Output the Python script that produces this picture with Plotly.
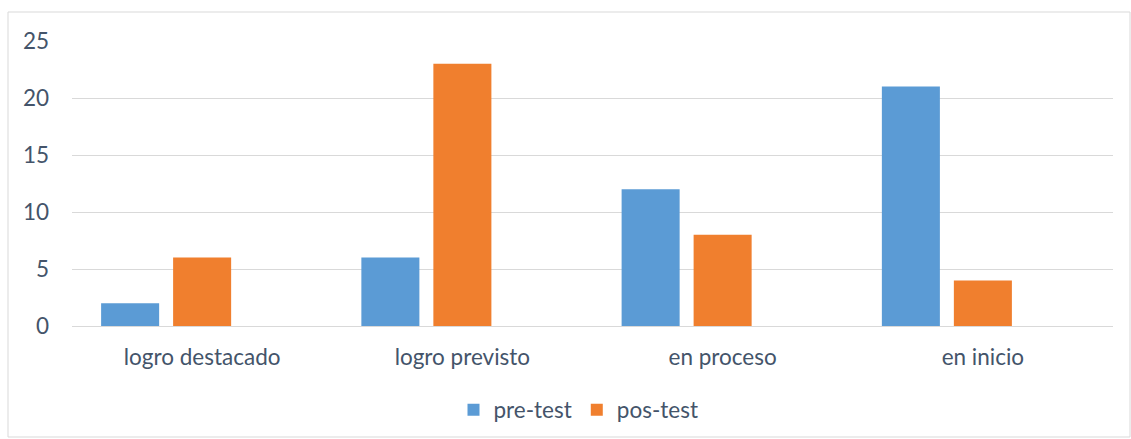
import plotly.graph_objects as go

categories = ["logro destacado", "logro previsto", "en proceso", "en inicio"]
pre_test = [2, 6, 12, 21]
pos_test = [6, 23, 8, 4]
y_ticks = [0, 5, 10, 15, 20, 25]

W, H = 1131, 439
ml, mr, mt, mb = 72, 18, 41, 113
pw = W - ml - mr
ph = H - mt - mb

FONT = "Lato, Open Sans, sans-serif"
TXT = "#44546A"
FS = 22.5

fig = go.Figure()
fig.add_trace(go.Bar(x=categories, y=pre_test, name="pre-test",
                     marker=dict(color="#5B9BD5", line=dict(width=0))))
fig.add_trace(go.Bar(x=categories, y=pos_test, name="pos-test",
                     marker=dict(color="#F07F2E", line=dict(width=0))))
# empty third series slot (as in the original Excel chart)
fig.add_trace(go.Bar(x=categories, y=[None] * len(categories), name="",
                     showlegend=False, hoverinfo="skip"))

fig.update_layout(
    width=W, height=H,
    margin=dict(l=ml, r=mr, t=mt, b=mb, autoexpand=False),
    paper_bgcolor="white", plot_bgcolor="white",
    barmode="group", bargap=0.17, bargroupgap=0.194,
    font=dict(family=FONT, size=FS, color=TXT),
    showlegend=True,
    legend=dict(orientation="h", x=0.5 - 14 / pw, xanchor="center",
                y=-(410 - 326) / ph, yanchor="middle",
                font=dict(family=FONT, size=FS, color=TXT),
                traceorder="normal", itemwidth=30),
    xaxis=dict(showgrid=False, showline=False, ticks="",
               tickfont=dict(family=FONT, size=FS, color=TXT),
               ticklabelstandoff=15),
    yaxis=dict(range=[0, 25], tickvals=y_ticks, showgrid=True,
               gridcolor="#D9D9D9", gridwidth=1.3, zeroline=True,
               zerolinecolor="#D9D9D9", zerolinewidth=1.3, showline=False,
               ticks="", tickfont=dict(family=FONT, size=FS, color=TXT),
               ticklabelstandoff=22),
    shapes=[dict(type="rect", xref="paper", yref="paper",
                 x0=(8 - ml) / pw, x1=(W - 1 - ml) / pw,
                 y0=-(437 - mt - ph) / ph, y1=(mt + ph - 12) / ph,
                 line=dict(color="#D9D9D9", width=1), layer="below")],
)

fig.write_html("out.html", config={"displayModeBar": False},
               post_script="document.body.style.margin='0';document.body.style.overflow='hidden';")
